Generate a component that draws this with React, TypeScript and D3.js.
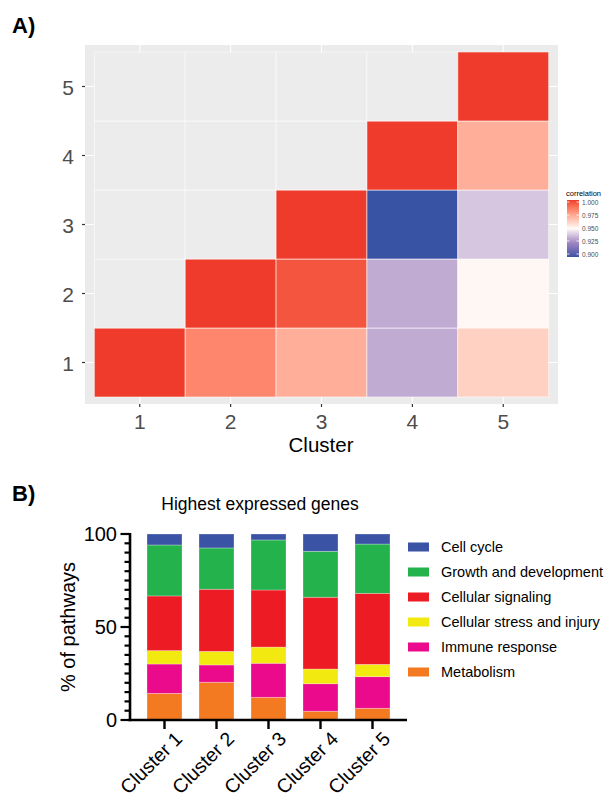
import React from 'react';
import * as d3 from 'd3';

// ---- panel A: correlation between clusters ----
const clusters = ['1', '2', '3', '4', '5'];
// upper triangle only (x >= y), the rest is NA
const corrX = ['1', '2', '3', '4', '5', '2', '3', '4', '5', '3', '4', '5', '4', '5', '5'];
const corrY = ['1', '1', '1', '1', '1', '2', '2', '2', '2', '3', '3', '3', '4', '4', '5'];
const corrValues = [1.0, 0.983, 0.972, 0.933, 0.962, 1.0, 0.995, 0.933, 0.951, 1.0, 0.9, 0.939, 1.0, 0.972, 1.0];
const corrTicks = [1.0, 0.975, 0.95, 0.925, 0.9];

// ---- panel B: pathways of the highest expressed genes ----
const barClusters = ['Cluster 1', 'Cluster 2', 'Cluster 3', 'Cluster 4', 'Cluster 5'];
const metabolism = [14.3, 20.3, 12.2, 4.7, 6.3];
const immuneResponse = [15.8, 9.3, 18.3, 14.8, 17.0];
const cellularStress = [7.2, 7.3, 8.7, 7.9, 6.6];
const cellularSignaling = [29.4, 33.4, 30.7, 38.6, 38.2];
const growthDevelopment = [27.4, 22.2, 26.9, 24.7, 26.5];
const cellCycle = [5.9, 7.5, 3.2, 9.3, 5.4];
const pathwayNames = ['Metabolism', 'Immune response', 'Cellular stress and injury', 'Cellular signaling', 'Growth and development', 'Cell cycle'];
const pathwayColors = ['#F47A22', '#EC0A8C', '#F1E910', '#ED1C24', '#24B24C', '#3A53A4'];
const yTicks = [0, 50, 100];

const font = '"Liberation Sans", Arial, Helvetica, sans-serif';

function Heatmap () {
  const x = d3.scaleBand().domain(clusters).range([94.3, 548.7]);
  const y = d3.scaleBand().domain(clusters).range([397, 52]);
  const color = d3.scaleLinear<string>()
    .domain([0.9, 0.925, 0.95, 1.0])
    .range(['#3953A4', '#A287C2', '#FFFAF7', '#EE3B2B'])
    .interpolate(d3.interpolateLab);
  const lookup: Record<string, number> = {};
  corrX.forEach((cx, i) => { lookup[cx + '-' + corrY[i]] = corrValues[i]; });
  const cells: { cx: string; cy: string; v: number | undefined }[] = [];
  clusters.forEach(cy => clusters.forEach(cx => cells.push({ cx, cy, v: lookup[cx + '-' + cy] })));

  const bar = d3.scaleLinear().domain([0.9, 1.0]).range([254, 202]);
  const stops = d3.range(0, 1.0001, 0.05).map(t => 0.9 + t * 0.1);

  return (
    <g>
      <text x={12} y={33} fontFamily={font} fontWeight='bold' fontSize={22}>A)</text>
      <rect x={85} y={45} width={473} height={359} fill='#EBEBEB' />
      {clusters.map(c => (
        <g key={'g' + c}>
          <line x1={x(c)! + x.bandwidth() / 2} x2={x(c)! + x.bandwidth() / 2} y1={45} y2={404} stroke='#fff' strokeWidth={1.1} />
          <line y1={y(c)! + y.bandwidth() / 2} y2={y(c)! + y.bandwidth() / 2} x1={85} x2={558} stroke='#fff' strokeWidth={1.1} />
        </g>
      ))}
      {cells.map(d => (
        <rect key={d.cx + d.cy} x={x(d.cx)} y={y(d.cy)} width={x.bandwidth()} height={y.bandwidth()}
          fill={d.v === undefined ? '#EBECEB' : color(d.v)} stroke='#fff' strokeOpacity={0.7} strokeWidth={0.8} />
      ))}
      {clusters.map(c => (
        <g key={'t' + c} fontFamily={font} fill='#4D4D4D' fontSize={21}>
          <line x1={82} x2={85} y1={y(c)! + y.bandwidth() / 2} y2={y(c)! + y.bandwidth() / 2} stroke='#333' strokeWidth={1.2} />
          <text x={74} y={y(c)! + y.bandwidth() / 2 + 8} textAnchor='end'>{c}</text>
          <line y1={404} y2={407} x1={x(c)! + x.bandwidth() / 2} x2={x(c)! + x.bandwidth() / 2} stroke='#333' strokeWidth={1.2} />
          <text y={429} x={x(c)! + x.bandwidth() / 2} textAnchor='middle'>{c}</text>
        </g>
      ))}
      <text x={321} y={452} textAnchor='middle' fontFamily={font} fontSize={20.5} fill='#000'>Cluster</text>
      {/* colour bar legend */}
      <defs>
        <linearGradient id='corrGrad' x1='0' y1='1' x2='0' y2='0'>
          {stops.map((s, i) => <stop key={i} offset={(s - 0.9) / 0.1} stopColor={color(s)} />)}
        </linearGradient>
      </defs>
      <text x={566} y={196} fontFamily={font} fontSize={7.5} fill='#000'>correlation</text>
      <rect x={567} y={200} width={12} height={57} fill='url(#corrGrad)' />
      {corrTicks.map(t => (
        <g key={t}>
          <line x1={567} x2={569.5} y1={bar(t)} y2={bar(t)} stroke='#fff' strokeWidth={0.8} />
          <line x1={576.5} x2={579} y1={bar(t)} y2={bar(t)} stroke='#fff' strokeWidth={0.8} />
          <text x={582} y={bar(t) + 2.5} fontFamily={font} fontSize={6.5} fill='#4D4D4D'>{t.toFixed(3)}</text>
        </g>
      ))}
    </g>
  );
}

function StackedBars () {
  const x = d3.scaleBand().domain(barClusters).range([130, 407]).paddingInner(0.327).paddingOuter(0.327);
  const y = d3.scaleLinear().domain([0, 100]).range([720, 534]);
  const series = [metabolism, immuneResponse, cellularStress, cellularSignaling, growthDevelopment, cellCycle];
  const rows = barClusters.map((c, i) => {
    const r: Record<string, number | string> = { cluster: c };
    pathwayNames.forEach((p, j) => { r[p] = series[j][i]; });
    return r;
  });
  const stacked = d3.stack<Record<string, number | string>>().keys(pathwayNames)(rows as any);
  const minor = d3.range(0, 101, 5);
  const legendOrder = pathwayNames.map((p, i) => ({ p, c: pathwayColors[i] })).reverse();

  return (
    <g fontFamily={font}>
      <text x={12} y={501} fontWeight='bold' fontSize={22}>B)</text>
      <text x={260} y={510} textAnchor='middle' fontSize={17.5}>Highest expressed genes</text>
      {stacked.map((s, j) => (
        <g key={s.key} fill={pathwayColors[j]}>
          {s.map((d, i) => (
            <rect key={i} x={x(barClusters[i])} width={x.bandwidth()} y={y(d[1])} height={y(d[0]) - y(d[1])}
              stroke='#fff' strokeOpacity={0.35} strokeWidth={0.8} />
          ))}
        </g>
      ))}
      {/* y axis */}
      <line x1={130} x2={130} y1={y(100) - 1} y2={y(0) + 1.2} stroke='#000' strokeWidth={2.6} />
      {minor.map(t => (
        <line key={t} x1={yTicks.includes(t) ? 120.5 : 124.5} x2={130} y1={y(t)} y2={y(t)} stroke='#000' strokeWidth={2.2} />
      ))}
      {yTicks.map(t => (
        <text key={t} x={117} y={y(t) + 7} textAnchor='end' fontSize={20}>{t}</text>
      ))}
      <text transform={`translate(75,627) rotate(-90)`} textAnchor='middle' fontSize={20}>% of pathways</text>
      {/* x axis */}
      <line x1={128.7} x2={407} y1={720} y2={720} stroke='#000' strokeWidth={2.6} />
      {barClusters.map(c => {
        const cx = x(c)! + x.bandwidth() / 2;
        return (
          <g key={c}>
            <line x1={cx} x2={cx} y1={720} y2={729} stroke='#000' strokeWidth={2.4} />
            <text transform={`translate(${cx + 19},${740}) rotate(-45)`} textAnchor='end' fontSize={19.5}>{c}</text>
          </g>
        );
      })}
      {/* legend */}
      {legendOrder.map((d, i) => (
        <g key={d.p} transform={`translate(408,${547 + i * 25})`}>
          <rect x={0} y={-4.5} width={21} height={9} fill={d.c} />
          <text x={33} y={5} fontSize={14.5}>{d.p}</text>
        </g>
      ))}
    </g>
  );
}

export default function App () {
  return (
    <svg width={611} height={798} style={{ position: 'absolute', left: 0, top: 0, background: '#fff' }}>
      <Heatmap />
      <StackedBars />
    </svg>
  );
}
